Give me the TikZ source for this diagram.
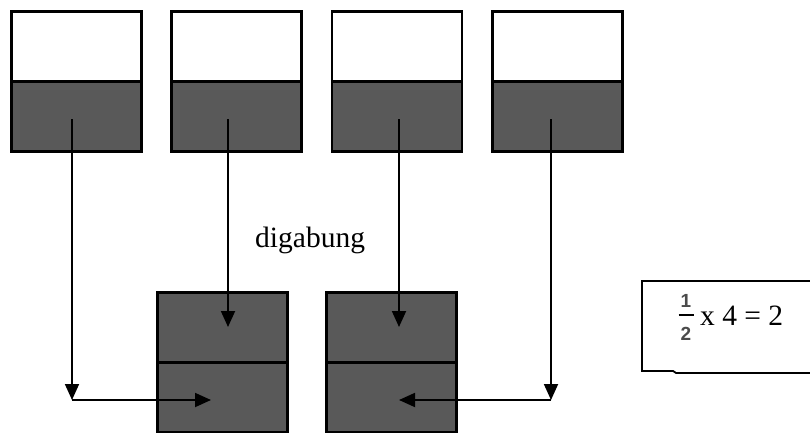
\documentclass[tikz,border=0pt]{standalone}
\usepackage{fontspec}
\setmainfont{Liberation Serif}
\newfontfamily\fracfont{Liberation Sans}
\usetikzlibrary{arrows.meta}
\definecolor{cellgray}{RGB}{89,89,89}
\definecolor{fracgray}{RGB}{75,75,75}
\tikzset{
  cellwhite/.style={draw=black, line width=2.6pt, fill=white, rectangle, inner sep=0pt, minimum width=130pt, minimum height=70pt},
  celldark/.style={draw=black, line width=2.6pt, fill=cellgray, rectangle, inner sep=0pt, minimum width=130pt, minimum height=70pt},
  link/.style={line width=1.8pt, -{Triangle[length=16pt,width=14pt]}},
  bigtext/.style={font=\fontsize{29.5}{32}\selectfont, inner sep=0pt},
  fracdigit/.style={font=\fracfont\bfseries\fontsize{19}{19}\selectfont, text=fracgray, inner sep=0pt},
}
\begin{document}
\begin{tikzpicture}[x=1pt, y=-1pt]
\useasboundingbox (0,0) rectangle (810,433);

% upper row: white cell above a dark cell
\foreach \i/\xl in {1/10, 2/170, 3/330.5, 4/491} {
  \node[cellwhite, anchor=north west] (t\i u) at (\xl,10) {};
  \node[celldark, anchor=north west] (t\i l) at (\xl,80) {};
}

% lower row: two dark cells stacked
\node[celldark, anchor=north west] (b1u) at (156,291) {};
\node[celldark, anchor=north west] (b1l) at (156,361) {};
\node[celldark, anchor=north west] (b2u) at (325,291) {};
\node[celldark, anchor=north west] (b2l) at (325,361) {};

% arrow start points inside the dark cells
\coordinate (s1) at (72,119);
\coordinate (s2) at (228,119);
\coordinate (s3) at (399,119);
\coordinate (s4) at (551,119);
% corners and targets
\coordinate (c1) at (72,400);
\coordinate (c4) at (551,400);
\coordinate (e1) at (211,400);
\coordinate (e4) at (399,400);
\coordinate (e2) at (228,327);
\coordinate (e3) at (399,327);

\draw[link] (s1) -- (c1);
\draw[link] (c1) -- (e1);
\draw[link] (s2) -- (e2);
\draw[link] (s3) -- (e3);
\draw[link] (s4) -- (c4);
\draw[link] (c4) -- (e4);

\node[bigtext, anchor=base west] (lbl) at (255,247) {digabung};

% framed calculation
\coordinate (r1) at (812,281);
\coordinate (r2) at (642,281);
\coordinate (r3) at (642,371);
\coordinate (r4) at (673,371);
\coordinate (r5) at (676,373);
\coordinate (r6) at (812,373);
\draw[line width=1.8pt] (r1) -- (r2) -- (r3) -- (r4) -- (r5) -- (r6);

\node[fracdigit] (num) at (686,301) {1};
\node[fracdigit] (den) at (686,334) {2};
\coordinate (fb1) at (678.5,315);
\coordinate (fb2) at (693.5,315);
\draw[line width=2.5pt, black] (fb1) -- (fb2);
\node[bigtext, anchor=base west] (calc) at (700,325) {x 4 = 2};
\end{tikzpicture}
\end{document}
